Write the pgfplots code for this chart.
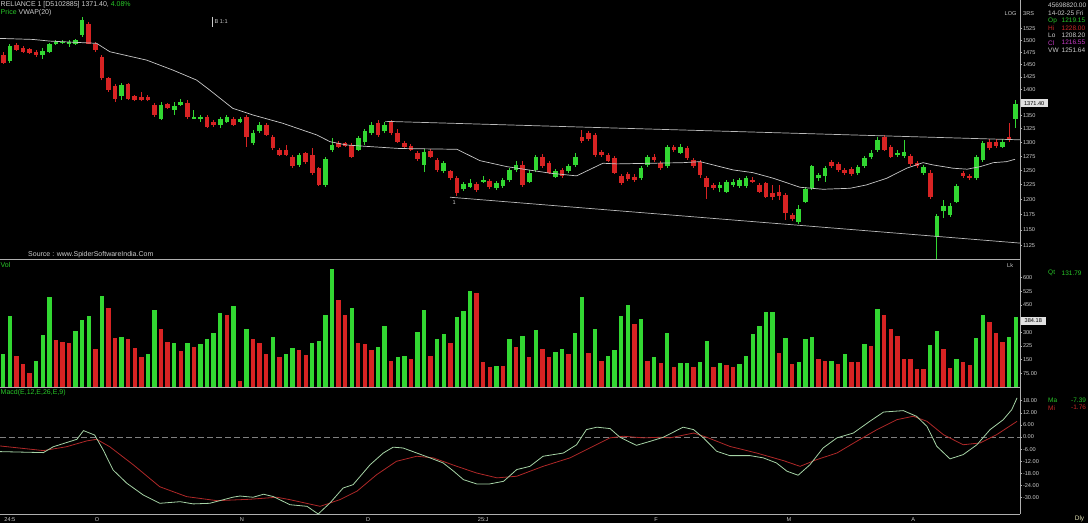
\documentclass[border=0pt]{standalone}
\usepackage{pgfplots}
\pgfplotsset{compat=1.18}
\usepackage{pgfplotstable}
\usepackage{fontspec}
\setmainfont{Liberation Sans}
\definecolor{cg}{RGB}{50,215,50}
\definecolor{cr}{RGB}{215,35,35}
\definecolor{axgray}{RGB}{175,175,175}
\definecolor{lbl}{RGB}{205,205,205}
\definecolor{vw}{RGB}{200,200,200}
\definecolor{trend}{RGB}{185,185,185}
\definecolor{macdg}{RGB}{165,210,165}
\definecolor{macdr}{RGB}{175,40,40}
\definecolor{txtg}{RGB}{40,200,40}
\definecolor{txtr}{RGB}{200,40,40}
\definecolor{txtm}{RGB}{200,60,200}
\definecolor{boxgray}{RGB}{225,225,225}
\definecolor{dlyc}{RGB}{225,225,180}
\newcommand\tf{\fontsize{5.6}{6}\selectfont}
\newcommand\lf{\fontsize{7}{8}\selectfont}
\newcommand\infofont{\fontsize{6.5}{7}\selectfont}

\pgfplotstableread{
i o h l c
1 1457 1493 1453 1488
6 1469 1483 1462 1478
7 1476 1494 1473 1492
8 1493 1500 1490 1497
9 1494 1500 1492 1497
10 1492 1500 1486 1497
11 1492 1502 1490 1500
12 1511 1550 1507 1544
18 1387 1413 1379 1409
24 1344 1376 1341 1370
26 1360 1376 1351 1368
27 1370 1381 1368 1376
29 1344 1360 1343 1347
30 1343 1351 1338 1347
33 1332 1347 1326 1343
34 1338 1351 1336 1347
36 1338 1347 1336 1344
38 1298 1323 1295 1317
39 1320 1338 1317 1332
45 1260 1281 1256 1277
49 1225 1273 1221 1270
50 1286 1308 1283 1295
54 1287 1312 1284 1307
55 1301 1325 1295 1320
56 1317 1338 1313 1332
58 1320 1338 1317 1332
64 1260 1288 1247 1283
67 1248 1267 1245 1263
70 1217 1230 1214 1226
71 1222 1235 1220 1228
73 1230 1240 1228 1233
75 1219 1232 1216 1228
76 1223 1237 1220 1233
77 1233 1254 1230 1250
78 1250 1267 1247 1260
80 1230 1251 1228 1246
81 1250 1277 1247 1273
84 1239 1253 1237 1248
86 1248 1261 1245 1258
87 1260 1281 1256 1273
97 1236 1258 1233 1254
98 1260 1277 1256 1273
101 1257 1295 1254 1292
103 1281 1297 1279 1292
109 1220 1230 1212 1224
110 1213 1233 1211 1230
111 1225 1235 1221 1229
112 1223 1237 1220 1233
113 1223 1240 1220 1236
121 1162 1191 1160 1184
122 1196 1221 1194 1217
123 1219 1260 1216 1257
124 1236 1245 1232 1242
125 1240 1258 1230 1254
130 1246 1260 1242 1255
131 1257 1275 1254 1271
132 1273 1286 1270 1281
133 1286 1310 1283 1304
136 1277 1286 1274 1281
137 1275 1304 1272 1283
140 1246 1260 1242 1256
142 1139 1176 1100 1172
143 1180 1199 1169 1189
144 1174 1194 1171 1189
145 1196 1226 1194 1223
148 1236 1277 1233 1274
149 1268 1303 1265 1298
152 1292 1306 1290 1301
154 1344 1379 1326 1371.4
}\gcand

\pgfplotstableread{
i o h l c
0 1469 1475 1451 1453
2 1490 1494 1477 1479
3 1483 1488 1473 1476
4 1481 1484 1471 1474
5 1476 1479 1465 1469
13 1534 1538 1492 1493
14 1493 1496 1475 1479
15 1466 1469 1418 1422
16 1422 1424 1395 1399
17 1407 1411 1376 1381
19 1411 1413 1379 1381
20 1387 1389 1377 1379
21 1385 1395 1377 1379
22 1386 1389 1377 1379
23 1370 1374 1347 1351
25 1371 1374 1362 1365
28 1374 1379 1343 1346
31 1347 1351 1326 1329
32 1338 1341 1328 1332
35 1344 1347 1330 1332
37 1347 1351 1292 1310
40 1332 1336 1312 1314
41 1310 1314 1286 1289
42 1286 1290 1275 1277
43 1287 1295 1275 1277
44 1274 1277 1254 1257
46 1280 1283 1261 1264
47 1277 1290 1242 1245
48 1254 1256 1223 1225
51 1299 1303 1290 1292
52 1298 1301 1292 1293
53 1295 1299 1272 1274
57 1336 1341 1310 1313
59 1338 1341 1313 1317
60 1317 1325 1299 1301
61 1298 1303 1290 1292
62 1293 1297 1284 1287
63 1281 1284 1267 1270
65 1285 1288 1272 1274
66 1268 1272 1247 1251
68 1248 1251 1233 1236
69 1236 1240 1206 1211
72 1226 1230 1213 1216
74 1232 1235 1218 1221
79 1260 1267 1221 1225
82 1274 1279 1254 1258
83 1263 1267 1244 1246
85 1251 1254 1237 1240
88 1310 1323 1299 1303
89 1317 1321 1302 1306
90 1313 1317 1274 1277
91 1283 1286 1274 1277
92 1277 1281 1265 1267
93 1271 1275 1244 1246
94 1240 1244 1225 1228
95 1244 1247 1232 1235
96 1239 1244 1230 1233
99 1274 1279 1265 1268
100 1263 1267 1251 1254
102 1292 1295 1283 1286
104 1289 1293 1268 1271
105 1268 1272 1254 1257
106 1265 1268 1237 1241
107 1236 1240 1201 1221
108 1225 1228 1216 1219
114 1233 1239 1228 1229
115 1225 1228 1211 1213
116 1228 1230 1203 1205
117 1211 1225 1199 1205
118 1212 1225 1199 1206
119 1208 1211 1166 1177
120 1174 1178 1164 1167
126 1265 1268 1254 1258
127 1261 1265 1247 1250
128 1251 1254 1242 1245
129 1252 1256 1240 1244
134 1309 1314 1284 1287
135 1292 1295 1272 1274
138 1275 1279 1258 1261
139 1263 1267 1254 1258
141 1246 1251 1201 1205
146 1245 1249 1237 1240
147 1240 1244 1233 1236
150 1301 1306 1286 1289
151 1301 1306 1290 1293
153 1310 1336 1301 1306
}\rcand

\pgfplotstableread{
i p
-0.5 1503.7
4.5 1501.6
7.1 1498.1
14.2 1493.3
16.2 1475.9
21.8 1458.8
25.8 1438.5
29.4 1418.5
31.4 1398.8
34.9 1363.5
38.0 1350.7
42.5 1335.2
47.7 1313.5
49.7 1301.2
52.2 1295.2
54.3 1293.4
60.3 1288.8
69.0 1287.4
72.5 1267.1
76.6 1256.5
83.2 1245.0
87.2 1240.3
91.2 1262.5
93.3 1261.3
103.4 1263.5
106.0 1265.3
111.0 1250.7
114.0 1246.0
117.1 1236.3
121.2 1220.7
124.7 1217.3
128.8 1219.0
131.3 1224.7
134.4 1236.3
137.4 1253.7
139.9 1263.5
141.4 1259.5
144.5 1253.7
146.6 1252.0
148.6 1256.5
150.6 1263.5
152.6 1265.3
153.9 1269.5
}\vwap

\pgfplotstableread{
i v
0 181
1 390
5 145
6 286
7 493
11 309
12 368
13 390
15 500
18 276
22 179
23 423
26 243
28 240
30 234
31 262
32 298
33 408
35 445
37 317
41 273
43 181
44 212
47 243
48 254
49 395
50 646
53 432
57 221
58 335
60 163
61 170
63 304
64 423
66 262
67 291
69 386
70 419
71 529
75 115
77 264
79 280
81 313
84 192
85 207
87 295
88 496
90 317
92 170
93 203
94 390
95 450
97 372
99 163
101 295
103 130
104 134
106 139
107 254
109 134
112 126
113 172
114 291
115 335
116 414
117 414
119 267
121 139
122 262
123 273
126 145
128 179
131 236
133 427
141 229
142 308
145 154
148 267
149 395
153 276
154 384.18
}\gvol

\pgfplotstableread{
i v
2 170
3 126
4 79
8 258
9 249
10 243
14 207
16 432
17 267
19 265
20 212
21 163
24 317
25 249
27 199
29 221
34 394
36 35
38 262
39 240
40 181
42 163
45 203
46 176
51 478
52 395
54 243
55 236
56 203
59 145
62 152
65 170
68 243
72 518
73 139
74 111
76 115
78 218
80 163
82 207
83 166
86 179
89 185
91 145
96 346
98 145
100 134
102 108
105 111
108 108
110 121
111 108
118 185
120 126
124 152
125 145
127 126
129 139
130 136
132 225
134 395
135 318
136 280
137 155
138 155
139 100
140 100
143 207
144 103
146 139
147 121
150 359
151 298
152 249
}\rvol

\pgfplotstableread{
i m
-0.5 -7.2
6.1 -7.7
7.6 -4.8
11.2 -1.1
12.2 3.2
13.9 1.0
15.2 -6.4
16.7 -16.3
18.8 -22.9
21.3 -28.7
23.8 -32.8
26.9 -32.0
28.9 -33.1
31.4 -32.8
34.9 -29.8
36.0 -29.2
38.0 -29.8
39.6 -28.3
41.1 -29.5
43.6 -33.5
46.2 -34.3
47.9 -38.1
49.7 -32.6
51.7 -25.2
53.2 -23.6
55.8 -13.7
57.8 -7.9
59.3 -5.0
60.8 -5.4
62.9 -7.9
64.9 -10.3
66.9 -12.8
68.5 -16.9
70.0 -21.1
72.0 -23.2
74.0 -23.2
76.1 -21.9
78.1 -16.1
80.1 -14.5
82.1 -9.5
85.2 -7.9
87.2 -3.8
88.7 3.7
90.3 4.9
92.3 4.2
93.8 -0.1
96.3 -4.1
98.4 -2.1
100.4 -0.1
103.4 4.9
105.0 3.7
106.5 -0.4
108.5 -7.0
110.5 -9.2
113.6 -9.2
115.6 -10.3
117.6 -12.8
119.2 -16.9
120.9 -18.9
122.7 -13.7
124.7 -5.4
126.8 -0.4
129.3 2.0
131.8 7.8
133.9 12.4
136.9 13.1
138.9 10.3
140.5 5.3
142.0 -4.6
144.0 -10.8
146.0 -8.7
148.1 -3.8
150.1 3.7
152.1 8.6
153.4 13.6
154.2 19.4
}\macd

\pgfplotstableread{
i m
-0.5 -4.4
6.1 -6.7
9.6 -4.8
12.7 -1.9
14.2 -1.1
16.2 -4.8
19.8 -13.8
23.8 -24.6
27.9 -29.5
32.5 -31.5
37.5 -30.8
41.6 -29.8
43.6 -31.0
48.2 -34.3
51.2 -31.0
53.8 -26.8
56.8 -18.6
59.8 -12.0
62.9 -9.5
65.4 -10.3
69.0 -14.5
72.0 -17.8
75.1 -20.2
78.1 -19.4
82.1 -14.5
86.2 -10.3
89.2 -5.4
92.3 -0.4
94.3 0.4
97.4 -0.4
99.9 -0.1
101.4 -0.4
105.0 2.0
107.0 -0.1
110.5 -4.6
114.6 -7.9
118.7 -11.7
121.2 -14.5
123.7 -11.2
126.8 -7.9
129.8 -2.1
132.9 3.7
135.9 8.6
138.4 10.3
140.5 7.8
143.0 1.2
146.0 -3.8
148.6 -2.9
151.1 1.2
154.2 7.8
}\signal

\pgfplotsset{
  panel/.style={
    scale only axis, width=1020pt, anchor=south west,
    xmin=-0.5, xmax=154.65,
    axis x line*=bottom, axis y line*=right,
    axis line style={draw=axgray, line width=0.6pt},
    tick align=outside, major tick length=2pt,
    tick style={draw=axgray, line width=0.5pt},
    minor tick num=0,
    yticklabel style={font=\tf, text=lbl, inner sep=0.8pt},
    xticklabel style={font=\tf, text=lbl},
  },
}

% one wick and one body per row of an OHLC table, drawn through the axis
\newcommand\drawcandles[2]{%
  \pgfplotstablegetrowsof{#1}%
  \pgfmathtruncatemacro\lastrow{\pgfplotsretval-1}%
  \pgfplotsforeachungrouped \r in {0,...,\lastrow}{%
    \pgfplotstablegetelem{\r}{i}\of{#1}\let\ci\pgfplotsretval
    \pgfplotstablegetelem{\r}{o}\of{#1}\let\co\pgfplotsretval
    \pgfplotstablegetelem{\r}{h}\of{#1}\let\ch\pgfplotsretval
    \pgfplotstablegetelem{\r}{l}\of{#1}\let\cl\pgfplotsretval
    \pgfplotstablegetelem{\r}{c}\of{#1}\let\cc\pgfplotsretval
    \edef\tmp{%
      \noexpand\addplot[draw=#2, line width=0.9pt, mark=none, forget plot] coordinates {(\ci,\cl) (\ci,\ch)};
      \noexpand\addplot[draw=#2, line width=4.6pt, mark=none, forget plot] coordinates {(\ci,\co) (\ci,\cc)};
    }%
    \tmp
  }%
}

\begin{document}
\begin{tikzpicture}[x=1pt,y=1pt]
\useasboundingbox (0,0) rectangle (1088,523);
\fill[black] (0,0) rectangle (1088,523);

% ---------- price panel: logarithmic price scale (data are prices, mapped by ln) ----------
\begin{axis}[panel, at={(0pt,264pt)}, height=259pt,
  y filter/.expression={ln(y)},
  ymin=7.006695, ymax=7.369448, xtick=\empty,
  ytick={7.025538,7.047517,7.069023,7.090077,7.110696,7.130899,7.150701,7.170120,7.189168,7.207860,7.244228,7.261927,7.279319,7.296413,7.313220,7.329749},
  yticklabels={1125,1150,1175,1200,1225,1250,1275,1300,1325,1350,1400,1425,1450,1475,1500,1525}]
\drawcandles{\gcand}{cg}
\drawcandles{\rcand}{cr}
\addplot[draw=vw, line width=0.7pt, mark=none] table[x=i, y=p] {\vwap};
\addplot[draw=trend, line width=0.7pt, mark=none] coordinates {(58.1,1338.8) (154.65,1304.6)};
\addplot[draw=trend, line width=0.7pt, mark=none] coordinates {(67.95,1203.8) (154.65,1128.9)};
\end{axis}

% ---------- volume panel ----------
\begin{axis}[panel, at={(0pt,136pt)}, height=128pt,
  ymin=0, ymax=703, xtick=\empty,
  ytick={75,150,225,300,450,525,600},
  yticklabels={75.00,150,225,300,450,525,600}]
\addplot[ycomb, draw=cg, line width=4.4pt, mark=none] table[x=i, y=v] {\gvol};
\addplot[ycomb, draw=cr, line width=4.4pt, mark=none] table[x=i, y=v] {\rvol};
\end{axis}

% ---------- MACD panel ----------
\begin{axis}[panel, at={(0pt,9pt)}, height=126pt,
  ymin=-38.1, ymax=24.3,
  ytick={-30,-24,-18,-12,-6,0,6,12,18},
  yticklabels={-30.00,-24.00,-18.00,-12.00,-6.00,0.00,6.00,12.00,18.00},
  xtick={1,14.25,36.3,55.5,73,99.3,119.5,138.4},
  xticklabels={24:5,O,N,D,25:J,F,M,A},
  xtick style={draw=none},
  xticklabel style={inner sep=1pt}]
\addplot[draw=gray, line width=0.6pt, dash pattern=on 6pt off 3pt, mark=none] coordinates {(-0.5,0) (154.65,0)};
\addplot[draw=macdr, line width=0.8pt, mark=none] table[x=i, y=m] {\signal};
\addplot[draw=macdg, line width=0.8pt, mark=none] table[x=i, y=m] {\macd};
\end{axis}

% right axis line through all panels
\draw[axgray, line width=0.6pt] (1020,9) -- (1020,523);

% ---------- texts ----------
\node[anchor=west, inner sep=0pt, font=\lf] at (0.5,518.5) {\color{lbl}RELIANCE 1 [D5102885] 1371.40, \color{txtg}4.08\%};
\node[anchor=west, inner sep=0pt, font=\lf] at (0.5,510.3) {\color{txtg}Price \color{lbl}VWAP(20)};
\draw[lbl, line width=0.5pt] (212.7,506.3) -- (212.7,496.3);
\node[anchor=west, inner sep=0pt, font=\tf, text=lbl] at (214.5,501) {B 1:1};
\node[anchor=west, inner sep=0pt, font=\lf, text=lbl] at (28,268) {Source : www.SpiderSoftwareIndia.Com};
\node[anchor=west, inner sep=0pt, font=\lf, text=txtg] at (0.5,258) {Vol};
\node[anchor=west, inner sep=0pt, font=\lf, text=txtg] at (0.5,130.3) {Macd(E,12,E,26,E,9)};
\node[anchor=west, inner sep=0pt, font=\tf, text=lbl] at (1007,258) {Lk};
\node[anchor=west, inner sep=0pt, font=\tf, text=lbl] at (1004.5,509.7) {LOG};
\node[anchor=west, inner sep=0pt, font=\tf, text=lbl] at (1023,509.7) {3RS};
\node[anchor=west, inner sep=0pt, font=\tf, text=lbl] at (452.5,320.3) {1};

% info panel
\node[anchor=west, inner sep=0pt, font=\infofont, text=lbl] at (1048,518) {45698820.00};
\node[anchor=west, inner sep=0pt, font=\infofont, text=lbl] at (1048,509.7) {14-02-25 Fri};
\node[anchor=west, inner sep=0pt, font=\infofont, text=txtg] at (1048,502.3) {Op};
\node[anchor=west, inner sep=0pt, font=\infofont, text=txtg] at (1061.5,502.3) {1219.15};
\node[anchor=west, inner sep=0pt, font=\infofont, text=txtr] at (1048,494.7) {Hi};
\node[anchor=west, inner sep=0pt, font=\infofont, text=txtr] at (1061.5,494.7) {1228.00};
\node[anchor=west, inner sep=0pt, font=\infofont, text=lbl] at (1048,487.3) {Lo};
\node[anchor=west, inner sep=0pt, font=\infofont, text=lbl] at (1061.5,487.3) {1208.20};
\node[anchor=west, inner sep=0pt, font=\infofont, text=txtm] at (1048,480.3) {Cl};
\node[anchor=west, inner sep=0pt, font=\infofont, text=txtm] at (1061.5,480.3) {1216.55};
\node[anchor=west, inner sep=0pt, font=\infofont, text=lbl] at (1048,473) {VW};
\node[anchor=west, inner sep=0pt, font=\infofont, text=lbl] at (1061.5,473) {1251.64};
\node[anchor=west, inner sep=0pt, font=\infofont, text=txtg] at (1048,249.7) {Qt};
\node[anchor=west, inner sep=0pt, font=\infofont, text=txtg] at (1061.5,249.7) {131.79};
\node[anchor=west, inner sep=0pt, font=\infofont, text=txtg] at (1048,123) {Ma};
\node[anchor=west, inner sep=0pt, font=\infofont, text=txtg] at (1071,123) {-7.39};
\node[anchor=west, inner sep=0pt, font=\infofont, text=txtr] at (1048,115.3) {Mi};
\node[anchor=west, inner sep=0pt, font=\infofont, text=txtr] at (1071,115.3) {-1.76};
\node[anchor=center, inner sep=0pt, font=\infofont, text=dlyc] at (1079.5,4) {Dly};

% current value boxes
\fill[boxgray] (1020.5,415.7) rectangle (1048,423.7);
\node[anchor=center, inner sep=0pt, font=\tf, text=black] at (1034.2,419.7) {1371.40};
\fill[boxgray] (1020.7,198) rectangle (1046,206.3);
\node[anchor=center, inner sep=0pt, font=\tf, text=black] at (1033.3,202.2) {384.18};
\end{tikzpicture}
\end{document}
